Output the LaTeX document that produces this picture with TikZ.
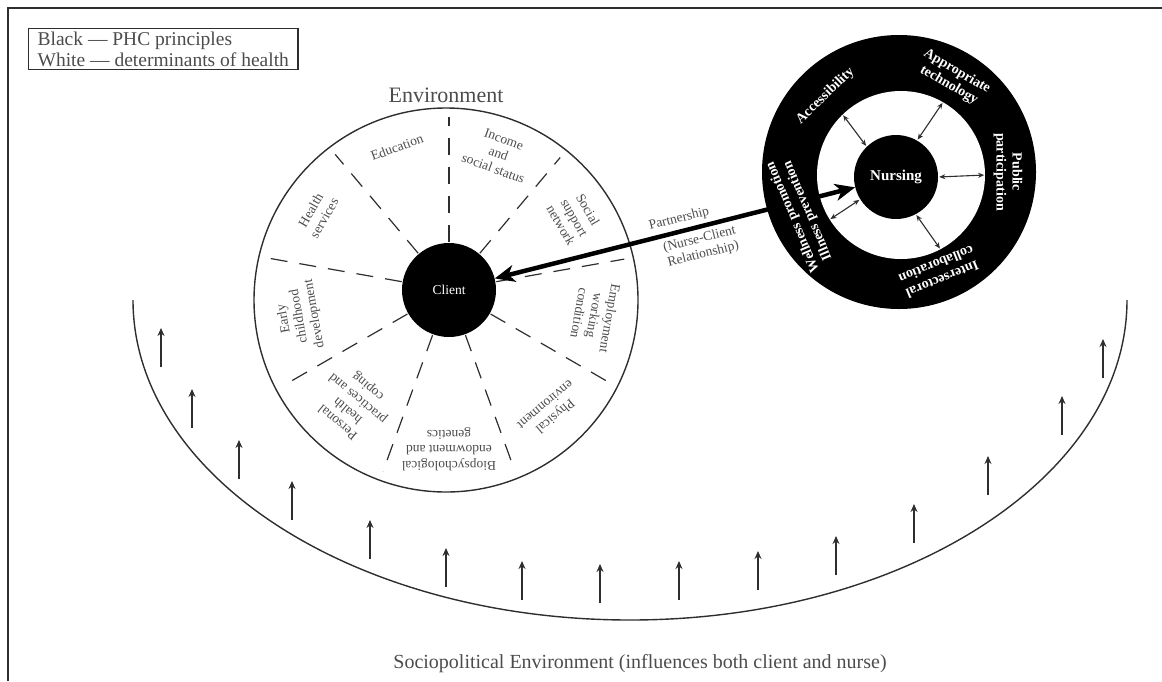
\documentclass[tikz,border=0pt]{standalone}
\usepackage{fontspec}
\setmainfont{Liberation Serif}
\usetikzlibrary{arrows.meta,calc}
\definecolor{tgray}{gray}{0.3}
\definecolor{lgray}{gray}{0.18}
\tikzset{
  lab/.style={text=tgray, align=center, font=\fontsize{13.5}{15.5}\selectfont, inner sep=0pt},
  ringlab/.style={text=white, align=center, font=\bfseries\fontsize{14}{16}\selectfont, inner sep=0pt},
  divider/.style={draw=lgray, line width=1.2pt, dash pattern=on 17pt off 12pt},
  outline/.style={draw=lgray, line width=1.4pt},
  thinarrow/.style={draw=lgray, line width=1.1pt, {Stealth[length=6pt,width=5pt]}-{Stealth[length=6pt,width=5pt]}, shorten <=1pt, shorten >=1pt},
  uparrow/.style={draw=lgray, line width=1.3pt, -{Stealth[length=8pt,width=7pt]}},
  bigarrow/.style={draw=black, line width=4.5pt, {Stealth[length=20pt,width=17pt,inset=6pt]}-{Stealth[length=20pt,width=17pt,inset=6pt]}},
  disk/.style={circle, inner sep=0pt},
}
\begin{document}
\begin{tikzpicture}[x=1pt,y=-1pt]
\useasboundingbox (0,0) rectangle (1162,681);
% frame
\draw[outline] (8,681) -- (8,8) -- (1162,8);
% legend
\node[draw=lgray, line width=1.3pt, anchor=north west, align=left, text=tgray,
      font=\fontsize{19.5}{21}\selectfont, inner xsep=9pt, inner ysep=3pt] (legend) at (28,28)
      {Black — PHC principles\\White — determinants of health};
% environment circle
\node[text=tgray, font=\fontsize{22}{22}\selectfont] (envlabel) at (446,95) {Environment};
\draw[outline] (446,300) circle (192pt);
\node[disk, fill=black, minimum size=94pt, text=white, font=\fontsize{13.5}{13.5}\selectfont] (client) at (449,290) {Client};
\foreach \a/\t in {90/173, 50/173, 10/178, -30/185, -70/191, -110/193, -150/190, 170/184, 130/177}
  \draw[divider] ($(client.center)+(\a:48pt)$) -- ($(client.center)+(\a:\t pt)$);
% determinants
\node[lab, rotate=20]   (education) at ($(client.center)+(110:152pt)$) {Education};
\node[lab, rotate=-20]  (income)    at ($(client.center)+(70:145pt)$)  {Income\\and\\social status};
\node[lab, rotate=-60]  (social)    at ($(client.center)+(30:145pt)$)  {Social\\support\\network};
\node[lab, rotate=-100] (employ)    at ($(client.center)+(-10:148pt)$) {Employment\\working\\condition};
\node[lab, rotate=-140] (physical)  at ($(client.center)+(-50:158pt)$) {Physical\\environment};
\node[lab, rotate=180]  (bio)       at ($(client.center)+(-90:159pt)$) {Biopsychological\\endowment and\\genetics};
\node[lab, rotate=140]  (personal)  at ($(client.center)+(-130:149pt)$) {Personal\\health\\practices and\\coping};
\node[lab, rotate=100]  (early)     at ($(client.center)+(-170:152pt)$) {Early\\childhood\\development};
\node[lab, rotate=60]   (health)    at ($(client.center)+(150:152pt)$) {Health\\services};
% PHC ring
\node[disk, fill=black, minimum size=274pt] (ring) at (899,172) {};
\node[disk, fill=white, minimum size=168pt] (wdisk) at (901,175) {};
\node[disk, fill=black, minimum size=84pt, text=white, font=\bfseries\fontsize{15}{15}\selectfont] (nursing) at (896,177) {Nursing};
\foreach \a in {134,60,0,-62,-148}
  \draw[thinarrow] (nursing.\a) -- (wdisk.\a);
% partnership
\draw[bigarrow] (client) -- (nursing)
  node[lab, pos=0.52, above=4pt, sloped] (partner) {Partnership}
  node[lab, pos=0.56, below=4pt, sloped] (relation) {(Nurse-Client\\Relationship)};
% PHC principles (drawn over the arrow, which is hidden on the black ring)
\node[ringlab, rotate=44]   (access) at ($(ring.center)+(134:106pt)$) {Accessibility};
\node[ringlab, rotate=-30]  (tech)   at ($(ring.center)+(60:108pt)$)  {Appropriate\\technology};
\node[ringlab, rotate=-90]  (public) at ($(ring.center)+(0:109pt)$)   {Public\\participation};
\node[ringlab, rotate=-158] (inter)  at ($(ring.center)+(-68:108pt)$) {Intersectoral\\collaboration};
\node[ringlab, rotate=113]  (well)   at ($(ring.center)+(-157:107pt)$) {Wellness promotion\\Illness prevention};
% sociopolitical environment
\draw[outline] (133,300) arc[start angle=180, end angle=360, x radius=497pt, y radius=320pt];
\foreach \x/\yb in {161/367, 192/428, 239/479, 292/520, 370/559, 446/587, 522/600, 600/603, 679/600, 758/590, 836/575, 914/543, 988/495, 1062/435, 1103/378}
  \draw[uparrow] (\x,\yb) -- (\x,\yb-39);
\node[text=tgray, font=\fontsize{20}{20}\selectfont] (socio) at (640,664) {Sociopolitical Environment (influences both client and nurse)};
\end{tikzpicture}
\end{document}
